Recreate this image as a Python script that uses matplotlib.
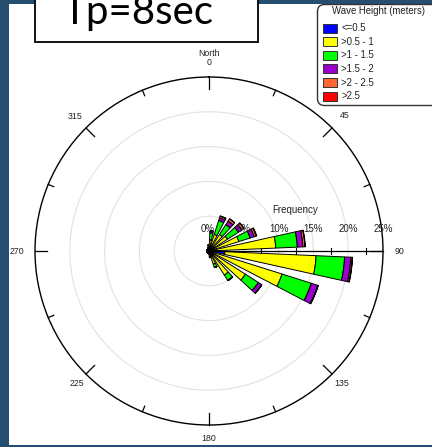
import numpy as np
import matplotlib
matplotlib.use("Agg")
import matplotlib.pyplot as plt
from matplotlib.patches import Rectangle, FancyBboxPatch
from matplotlib import font_manager

# ---------------- data ----------------
directions = [7.5, 22.5, 37.5, 52.5, 67.5, 82.5, 97.5, 112.5, 127.5, 142.5, 157.5, 172.5,
              187.5, 202.5, 217.5, 232.5, 247.5, 262.5, 277.5, 292.5, 307.5, 322.5, 337.5, 352.5]
class_labels = ["<=0.5", ">0.5 - 1", ">1 - 1.5", ">1.5 - 2", ">2 - 2.5", ">2.5"]
class_colors = ["#0000ff", "#ffff00", "#00ff00", "#9900cc", "#ff6633", "#ff0000"]
# percent frequency per class per direction
h_le_05 = [0.1, 0.1, 0.1, 0.15, 0.2, 1.0, 2.3, 0.5, 0.2, 0.1, 0.1, 0.05,
           0.05, 0.05, 0.05, 0.05, 0.05, 0.05, 0.05, 0.05, 0.05, 0.05, 0.05, 0.05]
h_05_1 = [1.5, 2.4, 2.7, 3.0, 4.3, 8.6, 13.1, 10.5, 6.0, 4.0, 1.9, 0.8,
          0.4, 0.3, 0.3, 0.3, 0.3, 0.3, 0.3, 0.3, 0.3, 0.3, 0.4, 0.7]
h_1_15 = [1.0, 2.1, 1.7, 1.85, 1.7, 3.1, 4.1, 4.4, 2.2, 0.9, 0.5, 0.1,
          0.0, 0.0, 0.0, 0.0, 0.0, 0.0, 0.0, 0.0, 0.0, 0.0, 0.0, 0.1]
h_15_2 = [0.2, 0.4, 0.6, 0.6, 0.6, 0.8, 0.9, 1.0, 0.6, 0.05, 0.0, 0.0,
          0.0, 0.0, 0.0, 0.0, 0.0, 0.0, 0.0, 0.0, 0.0, 0.0, 0.0, 0.0]
h_2_25 = [0.1, 0.25, 0.35, 0.35, 0.3, 0.3, 0.2, 0.05, 0.0, 0.0, 0.0, 0.0,
          0.0, 0.0, 0.0, 0.0, 0.0, 0.0, 0.0, 0.0, 0.0, 0.0, 0.0, 0.0]
h_gt_25 = [0.0, 0.05, 0.05, 0.05, 0.1, 0.05, 0.05, 0.0, 0.0, 0.0, 0.0, 0.0,
           0.0, 0.0, 0.0, 0.0, 0.0, 0.0, 0.0, 0.0, 0.0, 0.0, 0.0, 0.0]
series = [h_le_05, h_05_1, h_1_15, h_15_2, h_2_25, h_gt_25]
rings = [5, 10, 15, 20]
r_max = 25
angle_labels = [0, 45, 90, 135, 180, 225, 270, 315]
pct_labels = ["0%", "5%", "10%", "15%", "20%", "25%"]
title_text = "Tp=8sec"
legend_title = "Wave Height (meters)"

# ---------------- figure ----------------
W, H = 432, 447
fig = plt.figure(figsize=(W / 100, H / 100), dpi=100)
fig.patch.set_facecolor("#274e70")

# white panel
fig.add_artist(Rectangle((9 / W, 2 / H), (W - 9) / W + 0.01, (445 - 4) / H,
                         transform=fig.transFigure, facecolor="white",
                         edgecolor="none", zorder=0))

LBL = "Liberation Sans"

ax = fig.add_axes([35 / W, 22 / H, 348 / W, 348 / H], projection="polar")
ax.set_theta_zero_location("N")
ax.set_theta_direction(-1)
ax.set_ylim(0, r_max)
ax.set_xticks([])
ax.set_yticks([])
ax.grid(False)
ax.patch.set_alpha(0)
ax.spines["polar"].set_color("black")
ax.spines["polar"].set_linewidth(1.0)

full = np.linspace(0, 2 * np.pi, 400)
for r in rings:
    ax.plot(full, np.full_like(full, r), color="#e2e2e2", lw=0.8, zorder=0)

# angular ticks
for a in np.arange(0, 360, 22.5):
    ln = 1.75 if a % 45 == 0 else 0.85
    ax.plot([np.radians(a)] * 2, [r_max - ln, r_max], color="black", lw=0.9,
            clip_on=False, zorder=3)

# radial axis along 90
ax.plot([np.pi / 2, np.pi / 2], [0, r_max], color="black", lw=0.9, zorder=1)
for t in np.arange(2.5, r_max, 5):
    xa = 0.5 + t / (2 * r_max)
    ax.plot([xa, xa], [0.5 - 3 / 348, 0.5 + 3 / 348], transform=ax.transAxes,
            color="black", lw=0.8, zorder=1)

# petals
theta = np.radians(directions)
width = np.radians(10)
bottom = np.zeros(len(directions))
for vals, col in zip(series, class_colors):
    v = np.array(vals)
    ax.bar(theta, v, width=width, bottom=bottom, color=col, edgecolor="black",
           linewidth=0.7, zorder=2)
    bottom = bottom + v

# angle labels
for a in angle_labels:
    rr = 27.3 if a not in (135, 180, 225) else 26.9
    if a in (45, 270):
        rr = 27.6
    if a == 0:
        rr = 27.1
    ax.text(np.radians(a), rr, str(a), ha="center", va="center", fontsize=6.3,
            family=LBL, color="#222222", clip_on=False)
ax.text(0, 28.4, "North", ha="center", va="center", fontsize=6.3, family=LBL,
        color="#222222", clip_on=False)

# percentage labels and Frequency
for i, lab in enumerate(pct_labels):
    ax.text(0.5 + (5 * i) / (2 * r_max) - (0.004 if i == 0 else 0), 0.5 + 22 / 348, lab,
            transform=ax.transAxes, ha="center", va="center", fontsize=7,
            family=LBL, color="#222222", zorder=4)
ax.text(0.5 + 86 / 348, 0.5 + 41 / 348, "Frequency", transform=ax.transAxes,
        ha="center", va="center", fontsize=7, family=LBL, color="#222222")

# title box
fig.add_artist(Rectangle((35 / W, 1 - 41.5 / H), (258 - 35) / W, 60 / H,
                         transform=fig.transFigure, facecolor="white",
                         edgecolor="black", lw=1.3, zorder=5))
available = {f.name for f in font_manager.fontManager.ttflist}
if "Liberation Sans Narrow" in available:
    tfam, tsize = "Liberation Sans Narrow", 33
else:
    tfam, tsize = "Lato", 29
fig.text(62 / W, 1 - 24 / H, title_text, ha="left", va="baseline",
         fontsize=tsize, family=tfam, color="black", zorder=6)

# legend
lax = fig.add_axes([317 / W, 1 - 106 / H, 130 / W, 102 / H])
lax.set_xlim(0, 130)
lax.set_ylim(102, 0)
lax.axis("off")
lax.add_patch(FancyBboxPatch((0.5, 0.5), 140, 101, boxstyle="round,pad=0,rounding_size=7",
                             facecolor="white", edgecolor="#333333", lw=1.0,
                             clip_on=False))
lax.text(62, 7.5, legend_title, ha="center", va="center", fontsize=6.9,
         family=LBL, color="#222222")
for i, (lab, col) in enumerate(zip(class_labels, class_colors)):
    yc = 24 + i * 13.65
    lax.add_patch(Rectangle((6, yc - 4.5), 14, 9, facecolor=col,
                            edgecolor="#333333", lw=0.7))
    lax.text(24, yc, lab, ha="left", va="center", fontsize=6.9, family=LBL,
             color="#222222")

fig.savefig("out.png", dpi=100, facecolor=fig.get_facecolor())
